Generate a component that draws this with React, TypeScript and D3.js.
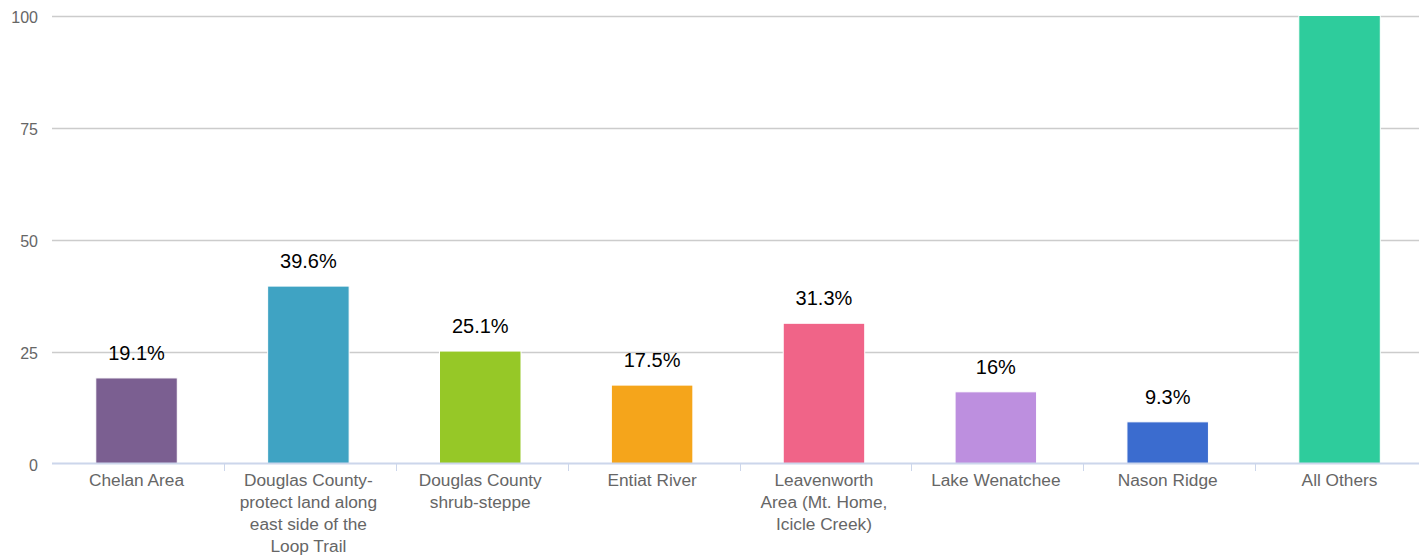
import React from "react";
import * as d3 from "d3";

const categories: string[][] = [
  ["Chelan Area"],
  ["Douglas County-", "protect land along", "east side of the", "Loop Trail"],
  ["Douglas County", "shrub-steppe"],
  ["Entiat River"],
  ["Leavenworth", "Area (Mt. Home,", "Icicle Creek)"],
  ["Lake Wenatchee"],
  ["Nason Ridge"],
  ["All Others"],
];
const values: number[] = [19.1, 39.6, 25.1, 17.5, 31.3, 16, 9.3, 100];
const labels: (string | null)[] = ["19.1%", "39.6%", "25.1%", "17.5%", "31.3%", "16%", "9.3%", null];
const colors: string[] = ["#7b5f91", "#3fa3c3", "#96c827", "#f5a51b", "#f06488", "#bd8fdf", "#3b6ccf", "#2ecc9c"];
const yTicks: number[] = [0, 25, 50, 75, 100];

const W = 1419;
const H = 556;
const plotLeft = 50.6;
const plotRight = 50.6 + 8 * 171.86;
const plotTop = 15.5;
const plotBottom = 463.5;

export default function App() {
  const idx = categories.map((_, i) => String(i));
  const x = d3.scaleBand<string>().domain(idx).range([plotLeft, plotRight]).padding(0);
  const y = d3.scaleLinear().domain([0, 100]).range([plotBottom, plotTop]);
  const bw = 81.5;
  const font = "'Liberation Sans', Arial, Helvetica, sans-serif";
  const bounds = d3.range(1, categories.length).map((i) => plotLeft + i * x.bandwidth() + 1.5);

  return (
    <svg width={W} height={H} style={{ position: "absolute", left: 0, top: 0, fontFamily: font }}>
      <rect x={0} y={0} width={W} height={H} fill="#fff" />
      {yTicks.map((t) =>
        t === 0 ? null : (
          <line key={"g" + t} x1={52} x2={W} y1={Math.round(y(t)) + 0.5} y2={Math.round(y(t)) + 0.5} stroke="#cccccc" strokeWidth={1.5} />
        )
      )}
      {yTicks.map((t) => (
        <text key={"yl" + t} x={38} y={y(t) + 7} textAnchor="end" fontSize={16} fill="#666666">
          {t}
        </text>
      ))}
      {values.map((v, i) => {
        const cx = (x(String(i)) as number) + x.bandwidth() / 2;
        const top = y(Math.min(v, 100));
        return (
          <rect key={"b" + i} x={cx - bw / 2} y={top} width={bw} height={plotBottom - top} fill={colors[i]} stroke="#ffffff" strokeWidth={1} />
        );
      })}
      <line x1={52} x2={W} y1={463.5} y2={463.5} stroke="#ccd6eb" strokeWidth={2} />
      {bounds.map((b, i) => (
        <line key={"t" + i} x1={Math.round(b) + 0.5} x2={Math.round(b) + 0.5} y1={463} y2={471} stroke="#ccd6eb" strokeWidth={1} />
      ))}
      {values.map((v, i) => {
        const lab = labels[i];
        if (!lab) return null;
        const cx = (x(String(i)) as number) + x.bandwidth() / 2;
        return (
          <text key={"dl" + i} x={cx} y={y(v) - 18} textAnchor="middle" fontSize={20} fill="#000000">
            {lab}
          </text>
        );
      })}
      {categories.map((lines, i) => {
        const cx = (x(String(i)) as number) + x.bandwidth() / 2;
        return (
          <text key={"xl" + i} textAnchor="middle" fontSize={17.3} fill="#666666">
            {lines.map((ln, j) => (
              <tspan key={j} x={cx} y={486 + j * 22}>
                {ln}
              </tspan>
            ))}
          </text>
        );
      })}
    </svg>
  );
}
